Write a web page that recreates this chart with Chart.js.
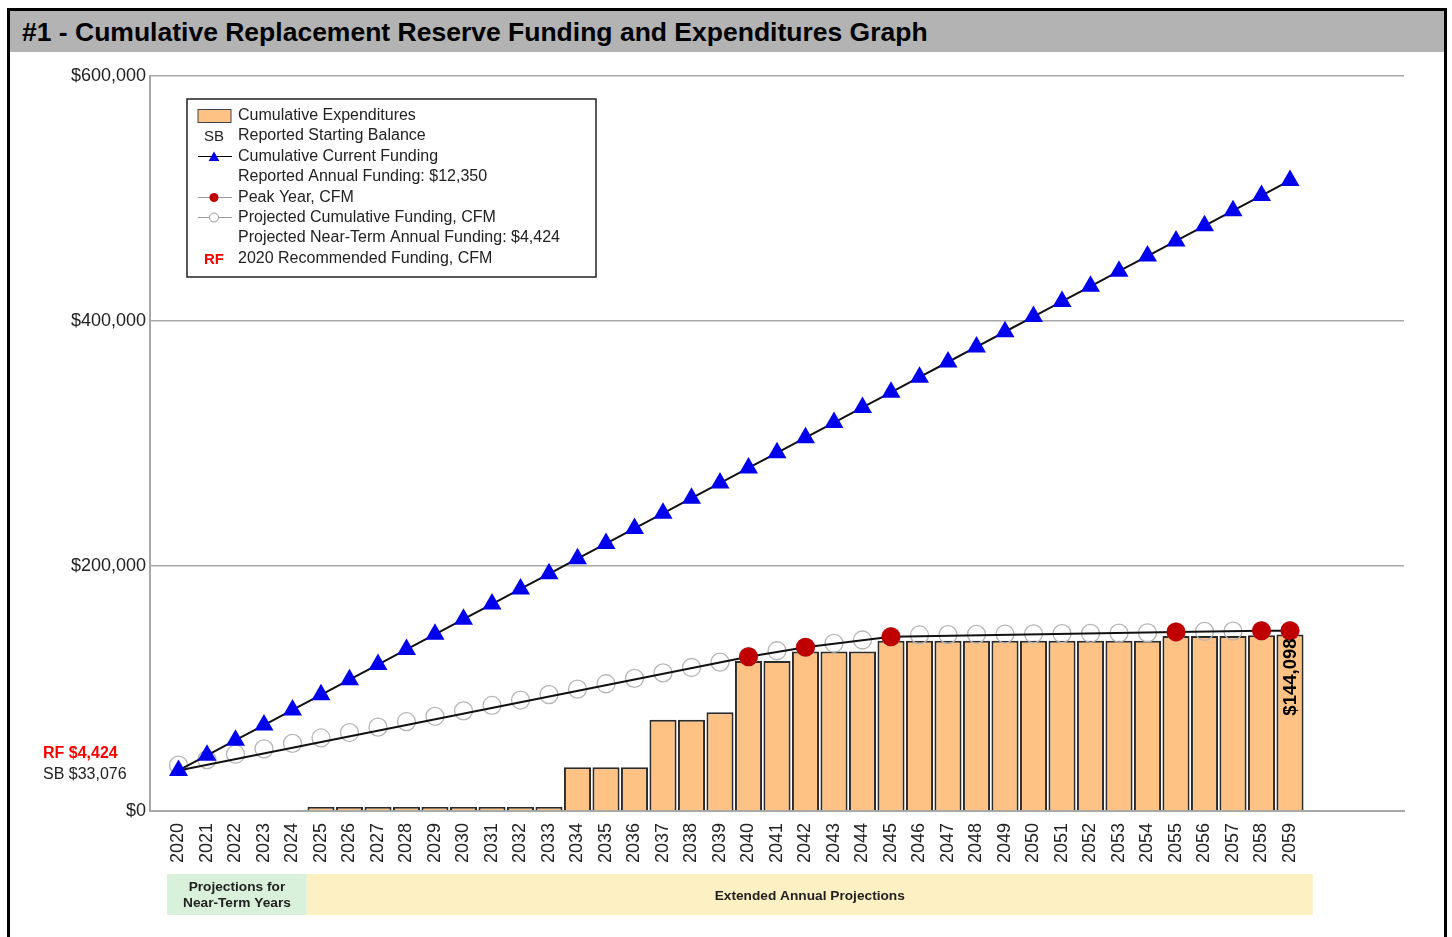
<!DOCTYPE html>
<html>
<head>
<meta charset="utf-8">
<title>Cumulative Replacement Reserve Funding and Expenditures Graph</title>
<script src="https://cdn.jsdelivr.net/npm/chart.js@4"></script>
<style>
  body { margin: 0; background: #fff; font-family: "Liberation Sans", Arial, sans-serif; }
  #frame { position: absolute; left: 7px; top: 8px; width: 1440px; height: 980px; border: 3px solid #000; box-sizing: border-box; }
  #title { position: absolute; left: 10px; top: 11px; width: 1434px; height: 41px; background: #b3b3b3;
           font-weight: bold; font-size: 26.5px; line-height: 43px; padding-left: 12px; box-sizing: border-box; color: #000; }
  #mychart { position: absolute; left: 0; top: 0; }
</style>
</head>
<body>
<div id="frame"></div>
<div id="title">#1 - Cumulative Replacement Reserve Funding and Expenditures Graph</div>
<canvas id="mychart" width="1452" height="937"></canvas>
<script>
const years = [2020, 2021, 2022, 2023, 2024, 2025, 2026, 2027, 2028, 2029,
               2030, 2031, 2032, 2033, 2034, 2035, 2036, 2037, 2038, 2039,
               2040, 2041, 2042, 2043, 2044, 2045, 2046, 2047, 2048, 2049,
               2050, 2051, 2052, 2053, 2054, 2055, 2056, 2057, 2058, 2059];

// cumulative expenditures (bars)
const expenditures = [null, null, null, null, null, 3200, 3200, 3200, 3200, 3200,
                      3200, 3200, 3200, 3200, 35800, 35800, 35800, 74500, 74500, 80700,
                      122400, 122400, 130200, 130200, 130200, 139000, 139000, 139000, 139000, 139000,
                      139000, 139000, 139000, 139000, 139000, 142900, 142900, 142900, 143500, 144098];

// cumulative current funding (blue triangles)
const currentFunding = [33076, 45426, 57776, 70126, 82476, 94826, 107176, 119526, 131876, 144226,
                        156576, 168926, 181276, 193626, 205976, 218326, 230676, 243026, 255376, 267726,
                        280076, 292426, 304776, 317126, 329476, 341826, 354176, 366526, 378876, 391226,
                        403576, 415926, 428276, 440626, 452976, 465326, 477676, 490026, 502376, 514726];

// projected cumulative funding, CFM (grey circles)
const projectedCfm = [37500, 41924, 46348, 50772, 55196, 59620, 64044, 68468, 72892, 77316,
                      81740, 86164, 90588, 95012, 99436, 103860, 108284, 112708, 117132, 121556,
                      125980, 130800, 133600, 136900, 139600, 142300, 143700, 144000, 144200, 144400,
                      144600, 144800, 145000, 145200, 145400, 146200, 146600, 146800, 147100, 147200];

// peak years, CFM (red dots)
const peakYears = [2040, 2042, 2045, 2055, 2058, 2059];
const peakValues = [125980, 133600, 142300, 146200, 147100, 147200];

const startBalance = 33076;
const recommendedFunding = 4424;
const reportedFunding = 12350;
const yTicks = [0, 200000, 400000, 600000];

const money = v => '$' + Math.round(v).toLocaleString('en-US');
const FONT = '"Liberation Sans", Arial, sans-serif';

const peakLine = [{ x: years[0], y: startBalance }].concat(peakYears.map((yr, i) => ({ x: yr, y: peakValues[i] })));

function tri(c, x, y, r) {
  c.beginPath();
  c.moveTo(x, y - r);
  c.lineTo(x + r * 0.9, y + r * 0.6);
  c.lineTo(x - r * 0.9, y + r * 0.6);
  c.closePath();
  c.fill();
}

const extras = {
  id: 'extras',
  afterDraw(chart) {
    const c = chart.ctx;
    const xs = chart.scales.x;
    const ys = chart.scales.y;
    c.save();

    // bottom bands
    const bTop = 874, bH = 41;
    const x0 = xs.getPixelForValue(2019.6), x1 = xs.getPixelForValue(2024.5), x2 = xs.getPixelForValue(2059.8);
    c.fillStyle = '#d9f0db';
    c.fillRect(x0, bTop, x1 - x0, bH);
    c.fillStyle = '#fdf0c2';
    c.fillRect(x1, bTop, x2 - x1, bH);
    c.fillStyle = '#222';
    c.font = 'bold 13.7px ' + FONT;
    c.textAlign = 'center';
    c.textBaseline = 'middle';
    c.fillText('Projections for', (x0 + x1) / 2, bTop + 13);
    c.fillText('Near-Term Years', (x0 + x1) / 2, bTop + 29);
    c.fillText('Extended Annual Projections', (x1 + x2) / 2, bTop + 22);

    // left annotations
    const sbY = ys.getPixelForValue(startBalance);
    c.textAlign = 'left';
    c.font = 'bold 16px ' + FONT;
    c.fillStyle = '#ff0000';
    c.fillText('RF ' + money(recommendedFunding), 43, sbY - 17);
    c.font = '16px ' + FONT;
    c.fillStyle = '#222';
    c.fillText('SB ' + money(startBalance), 43, sbY + 4);

    // last bar value label
    const bars = chart.getDatasetMeta(0).data;
    const last = bars[bars.length - 1];
    c.save();
    c.translate(last.x, last.y + 4);
    c.rotate(-Math.PI / 2);
    c.textAlign = 'right';
    c.textBaseline = 'middle';
    c.font = 'bold 18.5px ' + FONT;
    c.fillStyle = '#000';
    c.fillText(money(expenditures[expenditures.length - 1]), 0, 1);
    c.restore();

    // legend box
    const lx = 187, ly = 99, lw = 409, lh = 178;
    c.fillStyle = '#fff';
    c.fillRect(lx, ly, lw, lh);
    c.strokeStyle = '#222';
    c.lineWidth = 1.5;
    c.strokeRect(lx, ly, lw, lh);

    const rows = [115.5, 136, 156.5, 177, 197.5, 217.5, 238, 258.5];
    const sx = 214, tx = 238;
    c.textAlign = 'left';
    c.textBaseline = 'middle';
    c.font = '16px ' + FONT;
    c.fillStyle = '#222';
    const labels = ['Cumulative Expenditures', 'Reported Starting Balance', 'Cumulative Current Funding',
                    'Reported Annual Funding: ' + money(reportedFunding), 'Peak Year, CFM',
                    'Projected Cumulative Funding, CFM', 'Projected Near-Term Annual Funding: ' + money(recommendedFunding),
                    years[0] + ' Recommended Funding, CFM'];
    labels.forEach((t, i) => c.fillText(t, tx, rows[i]));

    // symbols
    c.fillStyle = '#ffc285';
    c.fillRect(198, rows[0] - 6, 33, 13);
    c.strokeStyle = '#444';
    c.lineWidth = 1;
    c.strokeRect(198, rows[0] - 6, 33, 13);

    c.fillStyle = '#222';
    c.textAlign = 'center';
    c.font = '15px ' + FONT;
    c.fillText('SB', sx, rows[1] + 1);

    c.strokeStyle = '#000';
    c.lineWidth = 1;
    c.beginPath(); c.moveTo(198, rows[2]); c.lineTo(232, rows[2]); c.stroke();
    c.fillStyle = '#0000ee';
    tri(c, sx, rows[2] + 1, 6);

    c.strokeStyle = '#999';
    c.beginPath(); c.moveTo(198, rows[4]); c.lineTo(232, rows[4]); c.stroke();
    c.fillStyle = '#c00000';
    c.beginPath(); c.arc(sx, rows[4], 4.5, 0, Math.PI * 2); c.fill();

    c.beginPath(); c.moveTo(198, rows[5]); c.lineTo(232, rows[5]); c.stroke();
    c.fillStyle = '#fff';
    c.beginPath(); c.arc(sx, rows[5], 4.5, 0, Math.PI * 2); c.fill(); c.stroke();

    c.fillStyle = '#ff0000';
    c.font = 'bold 15px ' + FONT;
    c.fillText('RF', sx, rows[7] + 1);

    c.restore();
  }
};

const ctx = document.getElementById('mychart').getContext('2d');

const chart = new Chart(ctx, {
  type: 'bar',
  data: {
    datasets: [{
      type: 'bar',
      label: 'Cumulative Expenditures',
      data: years.map((yr, i) => ({ x: yr, y: expenditures[i] })),
      backgroundColor: '#ffc285',
      borderColor: '#2b2b2b',
      borderWidth: 2,
      barPercentage: 0.95,
      categoryPercentage: 1,
      order: 4
    }, {
      type: 'line',
      label: 'Projected Cumulative Funding, CFM',
      data: years.map((yr, i) => ({ x: yr, y: projectedCfm[i] })),
      showLine: false,
      pointStyle: 'circle',
      pointRadius: 9,
      pointBorderWidth: 1.3,
      pointBorderColor: '#b5b5b5',
      pointBackgroundColor: 'rgba(0,0,0,0)',
      order: 3
    }, {
      type: 'line',
      label: 'Peak Year, CFM',
      data: peakLine,
      borderColor: '#111',
      borderWidth: 2,
      pointRadius: c => c.dataIndex === 0 ? 0 : 9.5,
      pointBackgroundColor: '#c00000',
      pointBorderColor: '#c00000',
      pointBorderWidth: 0,
      order: 2
    }, {
      type: 'line',
      label: 'Cumulative Current Funding',
      data: years.map((yr, i) => ({ x: yr, y: currentFunding[i] })),
      borderColor: '#111',
      borderWidth: 2,
      pointStyle: 'triangle',
      pointRadius: 11,
      pointBackgroundColor: '#0000ee',
      pointBorderColor: '#0000ee',
      pointBorderWidth: 0,
      order: 1
    }]
  },
  options: {
    responsive: false,
    animation: false,
    layout: { padding: { left: 0, right: 48, top: 76, bottom: 0 } },
    plugins: { legend: { display: false }, tooltip: { enabled: false } },
    scales: {
      x: {
        type: 'linear',
        min: 2019,
        max: 2063,
        offset: false,
        grid: { display: false, offset: false, drawTicks: false },
        border: { display: true, color: '#a8a8a8', width: 2 },
        ticks: {
          stepSize: 1,
          autoSkip: false,
          minRotation: 90,
          maxRotation: 90,
          padding: 12,
          color: '#222',
          font: { family: FONT, size: 18 },
          callback: v => (Number.isInteger(v) && v >= years[0] && v <= years[years.length - 1]) ? String(v) : ''
        },
        afterFit: s => { s.height = 937 - 811; }
      },
      y: {
        min: 0,
        max: 600000,
        grid: { color: '#a8a8a8', lineWidth: 1.5, drawTicks: false },
        border: { display: true, color: '#a8a8a8', width: 2 },
        ticks: {
          stepSize: 200000,
          padding: 4,
          color: '#222',
          font: { family: FONT, size: 18 },
          callback: v => yTicks.includes(v) ? money(v) : ''
        },
        afterFit: s => { s.width = 150; }
      }
    }
  },
  plugins: [extras]
});
</script>
</body>
</html>
